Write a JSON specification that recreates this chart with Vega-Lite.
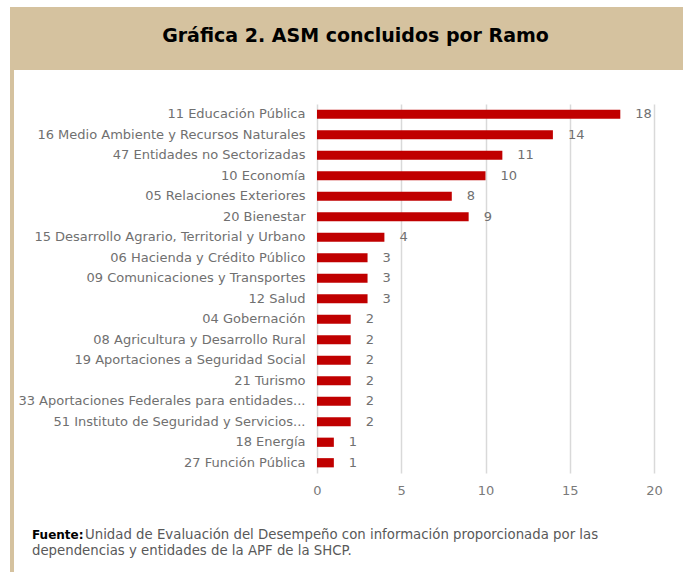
{
  "$schema": "https://vega.github.io/schema/vega-lite/v6.json",
  "background": "white",
  "padding": {"left": 10, "top": 7, "right": 0, "bottom": 0},
  "spacing": 0,
  "config": {"view": {"stroke": null}, "font": "DejaVu Sans", "concat": {"spacing": 0}},
  "datasets": {
    "ramos": [
      {"ramo": "11 Educación Pública", "n": 18},
      {"ramo": "16 Medio Ambiente y Recursos Naturales", "n": 14},
      {"ramo": "47 Entidades no Sectorizadas", "n": 11},
      {"ramo": "10 Economía", "n": 10},
      {"ramo": "05 Relaciones Exteriores", "n": 8},
      {"ramo": "20 Bienestar", "n": 9},
      {"ramo": "15 Desarrollo Agrario, Territorial y Urbano", "n": 4},
      {"ramo": "06 Hacienda y Crédito Público", "n": 3},
      {"ramo": "09 Comunicaciones y Transportes", "n": 3},
      {"ramo": "12 Salud", "n": 3},
      {"ramo": "04 Gobernación", "n": 2},
      {"ramo": "08 Agricultura y Desarrollo Rural", "n": 2},
      {"ramo": "19 Aportaciones a Seguridad Social", "n": 2},
      {"ramo": "21 Turismo", "n": 2},
      {"ramo": "33 Aportaciones Federales para entidades...", "n": 2},
      {"ramo": "51 Instituto de Seguridad y Servicios...", "n": 2},
      {"ramo": "18 Energía", "n": 1},
      {"ramo": "27 Función Pública", "n": 1}
    ]
  },
  "vconcat": [
    {
      "width": 673,
      "height": 63,
      "view": {"fill": "#D5C29F"},
      "data": {"values": [{"t": "Gráfica 2. ASM concluidos por Ramo"}]},
      "mark": {"type": "text", "fontSize": 19, "fontWeight": "bold", "color": "#000000", "dx": 9, "dy": -3, "baseline": "middle"},
      "encoding": {"text": {"field": "t", "type": "nominal"}}
    },
    {
      "spacing": 0,
      "hconcat": [
        {
          "width": 4,
          "height": 502,
          "view": {"fill": "#D5C29F"},
          "data": {"values": []},
          "mark": "text",
          "encoding": {}
        },
        {
          "spacing": 0,
          "vconcat": [
            {
              "width": 366,
              "height": 34,
              "data": {"values": []},
              "mark": "text",
              "encoding": {}
            },
            {
              "width": 337,
              "height": 369,
              "data": {"name": "ramos"},
              "encoding": {
                "y": {
                  "field": "ramo",
                  "type": "nominal",
                  "sort": null,
                  "scale": {"paddingInner": 0.55, "paddingOuter": 0.275},
                  "axis": {
                    "title": null,
                    "domain": false,
                    "ticks": false,
                    "labelPadding": 12,
                    "minExtent": 303,
                    "maxExtent": 303,
                    "labelFontSize": 13,
                    "labelColor": "#707070",
                    "labelLimit": 320
                  }
                }
              },
              "layer": [
                {
                  "mark": {"type": "bar", "color": "#C00000"},
                  "encoding": {
                    "x": {
                      "field": "n",
                      "type": "quantitative",
                      "scale": {"domain": [0, 20]},
                      "axis": {
                        "title": null,
                        "grid": true,
                        "gridColor": "#D9D9D9",
                        "gridWidth": 1.5,
                        "domain": false,
                        "ticks": false,
                        "values": [0, 5, 10, 15, 20],
                        "labelFlush": false,
                        "labelPadding": 11,
                        "labelFontSize": 13,
                        "labelColor": "#7a7a7a",
                        "minExtent": 24,
                        "maxExtent": 24
                      }
                    }
                  }
                },
                {
                  "mark": {"type": "text", "align": "left", "baseline": "middle", "dx": 15, "fontSize": 13, "color": "#707070"},
                  "encoding": {
                    "x": {"field": "n", "type": "quantitative"},
                    "text": {"field": "n", "type": "quantitative"}
                  }
                }
              ]
            },
            {
              "width": 366,
              "height": 75,
              "data": {"values": [{"k": 1}]},
              "layer": [
                {
                  "mark": {"type": "text", "align": "left", "baseline": "middle", "fontSize": 12, "fontWeight": "bold", "color": "#000000"},
                  "encoding": {"x": {"value": -285}, "y": {"value": 38}, "text": {"value": "Fuente:"}}
                },
                {
                  "mark": {"type": "text", "align": "left", "baseline": "middle", "fontSize": 13.3, "color": "#595959"},
                  "encoding": {"x": {"value": -232}, "y": {"value": 38}, "text": {"value": "Unidad de Evaluación del Desempeño con información proporcionada por las"}}
                },
                {
                  "mark": {"type": "text", "align": "left", "baseline": "middle", "fontSize": 13.3, "color": "#595959"},
                  "encoding": {"x": {"value": -285}, "y": {"value": 54}, "text": {"value": "dependencias y entidades de la APF de la SHCP."}}
                }
              ]
            }
          ]
        }
      ]
    }
  ]
}
